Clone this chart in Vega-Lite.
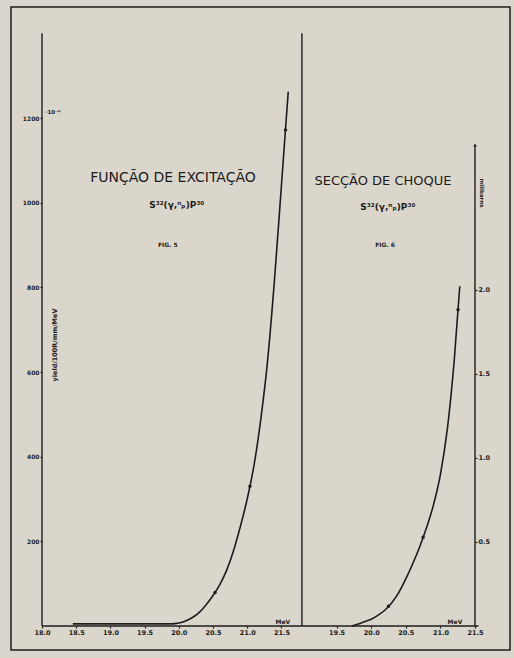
{
  "$schema": "https://vega.github.io/schema/vega-lite/v6.json",
  "autosize": "none",
  "width": 499,
  "height": 643,
  "padding": {"left": 11, "top": 7, "right": 4, "bottom": 8},
  "background": "#dbd6cb",
  "config": {
    "view": {"stroke": "#1c1c1c", "strokeWidth": 1.5},
    "font": "DejaVu Sans",
    "axis": {"grid": false, "domain": false, "tickColor": "#1c1c1c", "tickSize": 2, "tickWidth": 1.2, "labelColor": "#1c1c1c", "labelFontSize": 6.5, "labelFontWeight": "bold", "labelPadding": 1, "title": null, "labelFont": "DejaVu Sans"},
    "text": {"color": "#1c1c1c"}
  },
  "datasets": {
    "fig5": [
      {"E": 18.45, "Y": 5}, {"E": 18.9, "Y": 5}, {"E": 19.4, "Y": 5}, {"E": 19.9, "Y": 5},
      {"E": 20.0, "Y": 7}, {"E": 20.1, "Y": 12}, {"E": 20.2, "Y": 20}, {"E": 20.3, "Y": 32},
      {"E": 20.4, "Y": 50}, {"E": 20.5, "Y": 72}, {"E": 20.6, "Y": 98}, {"E": 20.7, "Y": 132},
      {"E": 20.8, "Y": 178}, {"E": 20.9, "Y": 235}, {"E": 21.0, "Y": 300}, {"E": 21.1, "Y": 380},
      {"E": 21.2, "Y": 490}, {"E": 21.3, "Y": 630}, {"E": 21.4, "Y": 820}, {"E": 21.5, "Y": 1040},
      {"E": 21.6, "Y": 1262}
    ],
    "fig5pts": [{"E": 20.53, "Y": 79}, {"E": 21.04, "Y": 330}, {"E": 21.56, "Y": 1172}],
    "fig6": [
      {"E": 19.72, "Y": 0}, {"E": 19.8, "Y": 0.01}, {"E": 19.9, "Y": 0.025}, {"E": 20.0, "Y": 0.04},
      {"E": 20.1, "Y": 0.065}, {"E": 20.2, "Y": 0.095}, {"E": 20.3, "Y": 0.14}, {"E": 20.4, "Y": 0.2},
      {"E": 20.5, "Y": 0.28}, {"E": 20.6, "Y": 0.37}, {"E": 20.7, "Y": 0.47}, {"E": 20.8, "Y": 0.585},
      {"E": 20.9, "Y": 0.72}, {"E": 21.0, "Y": 0.9}, {"E": 21.1, "Y": 1.17}, {"E": 21.2, "Y": 1.58},
      {"E": 21.28, "Y": 2.02}
    ],
    "fig6pts": [{"E": 20.25, "Y": 0.117}, {"E": 20.75, "Y": 0.527}, {"E": 21.255, "Y": 1.88}]
  },
  "layer": [
    {
      "layer": [
        {
          "data": {"name": "fig5"},
          "mark": {"type": "line", "interpolate": "monotone", "color": "#1c1c1c", "strokeWidth": 1.6},
          "encoding": {
            "x": {"field": "E", "type": "quantitative", "scale": {"domain": [17.5468, 24.8421], "nice": false, "zero": false},
                  "axis": {"orient": "bottom", "offset": -24, "values": [18, 18.5, 19, 19.5, 20, 20.5, 21, 21.5], "format": ".1f"}},
            "y": {"field": "Y", "type": "quantitative", "scale": {"domain": [-56.7, 1462.3], "nice": false, "zero": false},
                  "axis": {"orient": "left", "offset": -31, "values": [200, 400, 600, 800, 1000, 1200], "format": "d", "labelFontSize": 6}}
          }
        },
        {
          "data": {"name": "fig5pts"},
          "mark": {"type": "point", "filled": true, "color": "#1c1c1c", "size": 12, "opacity": 1},
          "encoding": {
            "x": {"field": "E", "type": "quantitative"},
            "y": {"field": "Y", "type": "quantitative"}
          }
        },
        {
          "data": {"values": [{}]},
          "mark": {"type": "rule", "color": "#1c1c1c", "strokeWidth": 1.4},
          "encoding": {"x": {"datum": 18}, "y": {"datum": 0}, "y2": {"datum": 1400}}
        },
        {
          "data": {"values": [{}]},
          "mark": {"type": "rule", "color": "#1c1c1c", "strokeWidth": 1.4},
          "encoding": {"x": {"datum": 21.8}, "y": {"datum": 0}, "y2": {"datum": 1400}}
        },
        {
          "data": {"values": [{}]},
          "mark": {"type": "rule", "color": "#1c1c1c", "strokeWidth": 1.4},
          "encoding": {"x": {"datum": 18}, "x2": {"datum": 21.8}, "y": {"datum": 0}}
        },
        {
          "data": {"values": [{}]},
          "mark": {"type": "text", "fontSize": 14, "align": "center", "baseline": "middle"},
          "encoding": {"x": {"datum": 19.915}, "y": {"datum": 1058}, "text": {"value": "FUNÇÃO DE EXCITAÇÃO"}}
        },
        {
          "data": {"values": [{}]},
          "mark": {"type": "text", "fontSize": 9, "align": "center", "baseline": "middle", "fontWeight": "bold"},
          "encoding": {"x": {"datum": 19.97}, "y": {"datum": 995}, "text": {"value": "S³²(γ,ⁿₚ)P³⁰"}}
        },
        {
          "data": {"values": [{}]},
          "mark": {"type": "text", "fontSize": 6, "align": "center", "baseline": "middle", "fontWeight": "bold"},
          "encoding": {"x": {"datum": 19.84}, "y": {"datum": 900}, "text": {"value": "FIG. 5"}}
        },
        {
          "data": {"values": [{}]},
          "mark": {"type": "text", "fontSize": 5.5, "align": "left", "baseline": "middle", "fontWeight": "bold"},
          "encoding": {"x": {"datum": 18.05}, "y": {"datum": 1215}, "text": {"value": "·10⁻⁶"}}
        },
        {
          "data": {"values": [{}]},
          "mark": {"type": "text", "fontSize": 6.5, "align": "center", "baseline": "middle", "angle": 270, "fontWeight": "bold"},
          "encoding": {"x": {"datum": 18.19}, "y": {"datum": 664}, "text": {"value": "yield/100R/mm/MeV"}}
        },
        {
          "data": {"values": [{}]},
          "mark": {"type": "text", "fontSize": 6, "align": "center", "baseline": "bottom", "dy": -1, "fontWeight": "bold"},
          "encoding": {"x": {"datum": 21.52}, "y": {"datum": 0}, "text": {"value": "MeV"}}
        }
      ]
    },
    {
      "layer": [
        {
          "data": {"name": "fig6"},
          "mark": {"type": "line", "interpolate": "monotone", "color": "#1c1c1c", "strokeWidth": 1.6},
          "encoding": {
            "x": {"field": "E", "type": "quantitative", "scale": {"domain": [14.7948, 22.0058], "nice": false, "zero": false},
                  "axis": {"orient": "bottom", "offset": -24, "values": [19.5, 20, 20.5, 21, 21.5], "format": ".1f"}},
            "y": {"field": "Y", "type": "quantitative", "scale": {"domain": [-0.1427, 3.68], "nice": false, "zero": false},
                  "axis": {"orient": "right", "offset": -35, "values": [0.5, 1, 1.5, 2], "format": ".1f"}}
          }
        },
        {
          "data": {"name": "fig6pts"},
          "mark": {"type": "point", "filled": true, "color": "#1c1c1c", "size": 12, "opacity": 1},
          "encoding": {
            "x": {"field": "E", "type": "quantitative"},
            "y": {"field": "Y", "type": "quantitative"}
          }
        },
        {
          "data": {"values": [{}]},
          "mark": {"type": "rule", "color": "#1c1c1c", "strokeWidth": 1.4},
          "encoding": {"x": {"datum": 19}, "x2": {"datum": 21.55}, "y": {"datum": 0}}
        },
        {
          "data": {"values": [{}]},
          "mark": {"type": "rule", "color": "#1c1c1c", "strokeWidth": 1.4},
          "encoding": {"x": {"datum": 21.5}, "y": {"datum": 0}, "y2": {"datum": 2.86}}
        },
        {
          "data": {"values": [{}]},
          "mark": {"type": "point", "shape": "triangle-up", "filled": true, "color": "#1c1c1c", "size": 12, "opacity": 1},
          "encoding": {"x": {"datum": 21.5}, "y": {"datum": 2.86}}
        },
        {
          "data": {"values": [{}]},
          "mark": {"type": "text", "fontSize": 13, "align": "center", "baseline": "middle"},
          "encoding": {"x": {"datum": 20.17}, "y": {"datum": 2.646}, "text": {"value": "SECÇÃO DE CHOQUE"}}
        },
        {
          "data": {"values": [{}]},
          "mark": {"type": "text", "fontSize": 9, "align": "center", "baseline": "middle", "fontWeight": "bold"},
          "encoding": {"x": {"datum": 20.24}, "y": {"datum": 2.49}, "text": {"value": "S³²(γ,ⁿₚ)P³⁰"}}
        },
        {
          "data": {"values": [{}]},
          "mark": {"type": "text", "fontSize": 6, "align": "center", "baseline": "middle", "fontWeight": "bold"},
          "encoding": {"x": {"datum": 20.2}, "y": {"datum": 2.265}, "text": {"value": "FIG. 6"}}
        },
        {
          "data": {"values": [{}]},
          "mark": {"type": "text", "fontSize": 5.5, "align": "center", "baseline": "middle", "angle": 90, "fontWeight": "bold"},
          "encoding": {"x": {"datum": 21.6}, "y": {"datum": 2.574}, "text": {"value": "milibarns"}}
        },
        {
          "data": {"values": [{}]},
          "mark": {"type": "text", "fontSize": 6, "align": "center", "baseline": "bottom", "dy": -1, "fontWeight": "bold"},
          "encoding": {"x": {"datum": 21.21}, "y": {"datum": 0}, "text": {"value": "MeV"}}
        }
      ]
    }
  ],
  "resolve": {"scale": {"x": "independent", "y": "independent"}, "axis": {"x": "independent", "y": "independent"}}
}
